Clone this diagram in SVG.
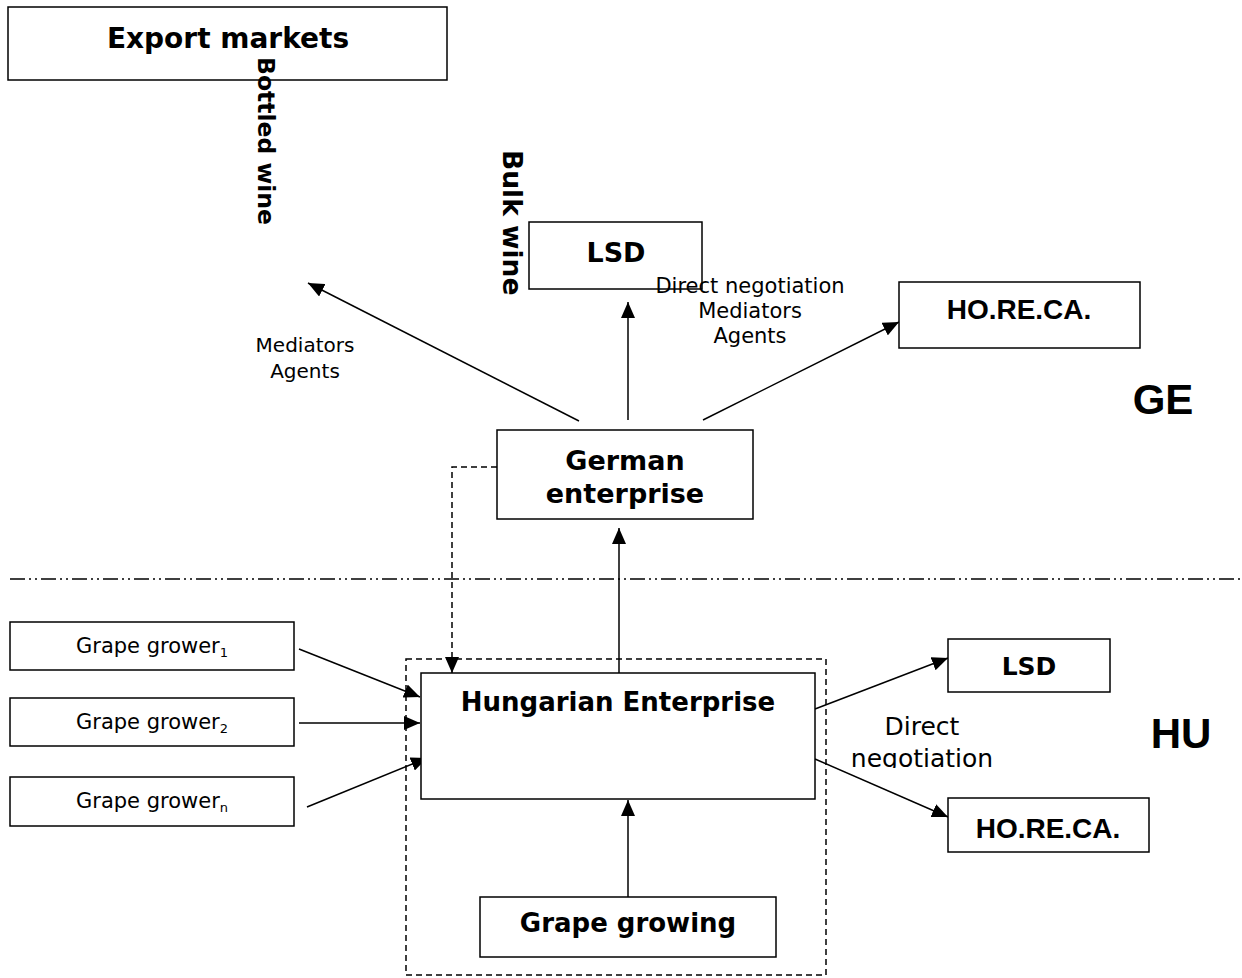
<svg xmlns="http://www.w3.org/2000/svg" width="1242" height="978" viewBox="0 0 1242 978">
  <style>
    .box { fill: #fff; stroke: #000; stroke-width: 1.5; }
    .hb { font-family: "DejaVu Sans", Verdana, sans-serif; font-weight: bold; fill: #000; text-anchor: middle; }
    .ha { font-family: "Liberation Sans", Arial, sans-serif; font-weight: bold; fill: #000; text-anchor: middle; }
    .lbl { font-family: "DejaVu Sans", Verdana, sans-serif; fill: #000; text-anchor: middle; }
    .vt { font-family: "DejaVu Sans", Verdana, sans-serif; font-weight: bold; fill: #000; }
    .arr { stroke: #000; stroke-width: 1.5; fill: none; marker-end: url(#head); }
    .dash { stroke: #000; stroke-width: 1.5; fill: none; stroke-dasharray: 6 4; }
  </style>
  <defs>
    <marker id="head" viewBox="0 0 16 14" refX="16" refY="7" markerWidth="16" markerHeight="14" markerUnits="userSpaceOnUse" orient="auto">
      <path d="M0,0 L16,7 L0,14 z" fill="#000"/>
    </marker>
    <clipPath id="negclip">
      <rect x="820" y="700" width="220" height="68"/>
    </clipPath>
  </defs>
  <rect width="1242" height="978" fill="#fff"/>

  <!-- country border -->
  <line x1="10" y1="579" x2="1242" y2="579" stroke="#000" stroke-width="1.5" stroke-dasharray="15 4 2 4 2 4"/>

  <!-- Hungarian cluster boundary -->
  <rect x="406" y="659" width="420" height="316" class="dash" stroke-dasharray="7 4"/>

  <!-- connectors -->
  <g id="connectors">
    <line class="arr" x1="579" y1="421" x2="308" y2="283"/>
    <line class="arr" x1="628" y1="420" x2="628" y2="302"/>
    <line class="arr" x1="703" y1="420" x2="899" y2="322"/>
    <polyline class="dash" points="497,467 452,467 452,660" stroke-dasharray="5 4"/>
    <line stroke="#000" stroke-width="1.5" x1="452" y1="658" x2="452" y2="673" marker-end="url(#head)"/>
    <line class="arr" x1="619" y1="673" x2="619" y2="528"/>
    <line class="arr" x1="628" y1="897" x2="628" y2="800"/>
    <line class="arr" x1="299" y1="649" x2="420" y2="697"/>
    <line class="arr" x1="299" y1="723" x2="420" y2="723"/>
    <line class="arr" x1="307" y1="807" x2="427" y2="758"/>
    <line class="arr" x1="815" y1="709" x2="948" y2="658"/>
    <line class="arr" x1="815" y1="759" x2="948" y2="817"/>
  </g>

  <!-- nodes -->
  <g id="export-markets">
    <rect class="box" x="8" y="7" width="439" height="73"/>
    <text class="hb" x="228" y="48" font-size="28">Export markets</text>
  </g>
  <g id="lsd-ge">
    <rect class="box" x="529" y="222" width="173" height="67"/>
    <text class="hb" x="616" y="262" font-size="27">LSD</text>
  </g>
  <g id="horeca-ge">
    <rect class="box" x="899" y="282" width="241" height="66"/>
    <text class="ha" x="1019" y="319" font-size="28">HO.RE.CA.</text>
  </g>
  <g id="german-enterprise">
    <rect class="box" x="497" y="430" width="256" height="89"/>
    <text class="hb" x="625" y="470" font-size="27">German</text>
    <text class="hb" x="625" y="503" font-size="27">enterprise</text>
  </g>
  <g id="hungarian-enterprise">
    <rect class="box" x="421" y="673" width="394" height="126" stroke-width="2"/>
    <text class="hb" x="618" y="711" font-size="26">Hungarian Enterprise</text>
  </g>
  <g id="grape-growing">
    <rect class="box" x="480" y="897" width="296" height="60"/>
    <text class="hb" x="628" y="932" font-size="26">Grape growing</text>
  </g>
  <g id="grape-grower-1">
    <rect class="box" x="10" y="622" width="284" height="48"/>
    <text class="lbl" x="152" y="653" font-size="21">Grape grower<tspan font-size="13" dy="4">1</tspan></text>
  </g>
  <g id="grape-grower-2">
    <rect class="box" x="10" y="698" width="284" height="48"/>
    <text class="lbl" x="152" y="729" font-size="21">Grape grower<tspan font-size="13" dy="4">2</tspan></text>
  </g>
  <g id="grape-grower-n">
    <rect class="box" x="10" y="777" width="284" height="49"/>
    <text class="lbl" x="152" y="808" font-size="21">Grape grower<tspan font-size="13" dy="4">n</tspan></text>
  </g>
  <g id="lsd-hu">
    <rect class="box" x="948" y="639" width="162" height="53"/>
    <text class="hb" x="1029" y="675" font-size="25">LSD</text>
  </g>
  <g id="horeca-hu">
    <rect class="box" x="948" y="798" width="201" height="54"/>
    <text class="ha" x="1048" y="838" font-size="28">HO.RE.CA.</text>
  </g>

  <!-- channel labels -->
  <text class="vt" font-size="23.5" transform="translate(258,57) rotate(90)">Bottled wine</text>
  <text class="vt" font-size="26.5" transform="translate(503,150) rotate(90)">Bulk wine</text>
  <text class="lbl" x="305" y="352" font-size="20">Mediators</text>
  <text class="lbl" x="305" y="378" font-size="20">Agents</text>
  <text class="lbl" x="750" y="293" font-size="21">Direct negotiation</text>
  <text class="lbl" x="750" y="318" font-size="21">Mediators</text>
  <text class="lbl" x="750" y="343" font-size="21">Agents</text>
  <g clip-path="url(#negclip)">
    <text class="lbl" x="922" y="735" font-size="25">Direct</text>
    <text class="lbl" x="922" y="767" font-size="25">negotiation</text>
  </g>

  <!-- country labels -->
  <text class="ha" x="1163" y="414" font-size="42">GE</text>
  <text class="ha" x="1181" y="748" font-size="42">HU</text>
</svg>
